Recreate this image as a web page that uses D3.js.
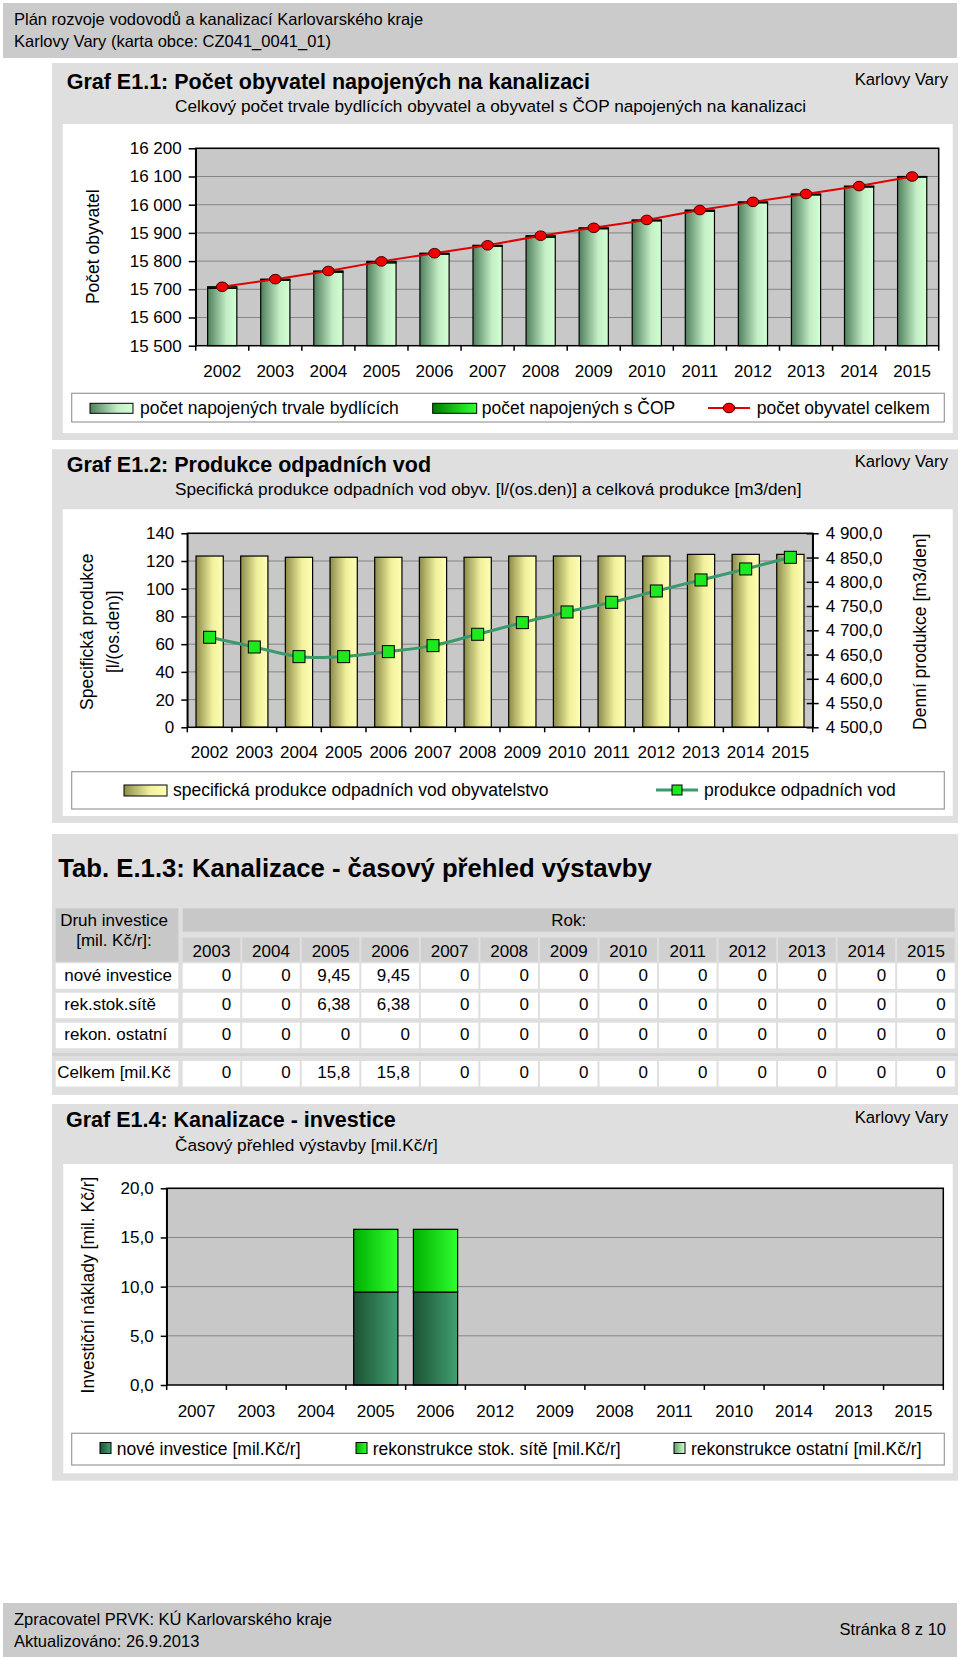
<!DOCTYPE html>
<html>
<head>
<meta charset="utf-8">
<script src="https://cdn.jsdelivr.net/npm/d3@7"></script>
<style>
  body { margin: 0; background: #fff; }
  svg { display: block; font-family: "Liberation Sans", Arial, sans-serif; }
</style>
</head>
<body>
<svg id="page" width="960" height="1657"></svg>
<script>
// --- data: Graf E1.1
const years = ["2002", "2003", "2004", "2005", "2006", "2007", "2008", "2009", "2010", "2011", "2012", "2013", "2014", "2015"];
const napojeniTrvale = [15704, 15732, 15761, 15794, 15825, 15853, 15885, 15915, 15943, 15977, 16007, 16035, 16063, 16098];
const napojeniCOP = [5, 4, 4, 5, 3, 3, 5, 3, 3, 4, 3, 3, 3, 2];
const obyvatelCelkem = [15709, 15736, 15765, 15799, 15828, 15856, 15890, 15918, 15946, 15981, 16010, 16038, 16066, 16100];

// --- data: Graf E1.2
const specProdukce = [123.6, 123.6, 122.7, 122.7, 122.7, 122.7, 122.7, 123.6, 123.6, 123.6, 123.6, 124.8, 124.8, 124.8];
const denniProdukce = [4685.6, 4665.6, 4645.7, 4645.7, 4656.0, 4668.4, 4691.8, 4715.8, 4737.8, 4757.7, 4781.1, 4803.8, 4826.5, 4850.5];

// --- data: Tab. E.1.3
const tabYears = ["2003", "2004", "2005", "2006", "2007", "2008", "2009", "2010", "2011", "2012", "2013", "2014", "2015"];
const noveInvestice = [0, 0, 9.45, 9.45, 0, 0, 0, 0, 0, 0, 0, 0, 0];
const rekStokSite = [0, 0, 6.38, 6.38, 0, 0, 0, 0, 0, 0, 0, 0, 0];
const rekonOstatni = [0, 0, 0, 0, 0, 0, 0, 0, 0, 0, 0, 0, 0];

// --- data: Graf E1.4 (category order as in the chart)
const years4 = ["2007", "2003", "2004", "2005", "2006", "2012", "2009", "2008", "2011", "2010", "2014", "2013", "2015"];

const cz = d3.formatLocale({ decimal: ",", thousands: " ", grouping: [3], currency: ["", " Kč"] });
const fmtInt = cz.format(",d");
const fmt1 = cz.format(",.1f");
const fmtTab = cz.format(".3~g");

const LEG = 17.5; // legend font size

const svg = d3.select("#page");
const defs = svg.append("defs");

function grad(id, stops) {
  const g = defs.append("linearGradient").attr("id", id)
    .attr("x1", "0%").attr("x2", "100%").attr("y1", "0%").attr("y2", "0%");
  stops.forEach(s => g.append("stop").attr("offset", s[0]).attr("stop-color", s[1]));
}
grad("gTrvale", [[0, "#4f7f5c"], [0.65, "#c4eec6"], [1, "#d2ffd2"]]);
grad("gCop", [[0, "#007a00"], [0.7, "#22dd22"], [1, "#33ff33"]]);
grad("gSpec", [[0, "#8c8c4c"], [0.6, "#f0f09c"], [1, "#ffffb4"]]);
grad("gNove", [[0, "#1b5233"], [1, "#42a070"]]);
grad("gRek", [[0, "#00b000"], [1, "#30ff30"]]);
grad("gOst", [[0, "#5f9f6c"], [1, "#d2ffd2"]]);

function text(x, y, s, opt = {}) {
  return svg.append("text").attr("x", x).attr("y", y).text(s)
    .attr("font-size", opt.size || 16)
    .attr("font-weight", opt.bold ? "bold" : null)
    .attr("text-anchor", opt.anchor || "start")
    .attr("fill", "#000");
}

function panel(y0, y1) {
  svg.append("rect").attr("x", 52).attr("y", y0).attr("width", 906).attr("height", y1 - y0).attr("fill", "#dfdfdf");
}

// --- page header / footer
svg.append("rect").attr("x", 3).attr("y", 3).attr("width", 954).attr("height", 55).attr("fill", "#cbcbcb");
text(14, 25, "Plán rozvoje vodovodů a kanalizací Karlovarského kraje", { size: 16.5 });
text(14, 47, "Karlovy Vary (karta obce: CZ041_0041_01)", { size: 16.5 });

svg.append("rect").attr("x", 3).attr("y", 1603).attr("width", 954).attr("height", 54).attr("fill", "#cbcbcb");
text(14, 1625, "Zpracovatel PRVK: KÚ Karlovarského kraje", { size: 16.5 });
text(14, 1647, "Aktualizováno: 26.9.2013", { size: 16.5 });
text(946, 1635, "Stránka 8 z 10", { size: 16.5, anchor: "end" });

// common axis helpers
function plotFrame(g, x0, y0, x1, y1) {
  g.append("rect").attr("x", x0).attr("y", y0).attr("width", x1 - x0).attr("height", y1 - y0)
    .attr("fill", "#c8c8c8");
}
function gridY(g, y, ticks, x0, x1) {
  g.selectAll(null).data(ticks).join("line")
    .attr("x1", x0).attr("x2", x1).attr("y1", d => y(d)).attr("y2", d => y(d))
    .attr("stroke", "#858585").attr("stroke-width", 1);
}
function frameBorder(g, x0, y0, x1, y1) {
  g.append("rect").attr("x", x0).attr("y", y0).attr("width", x1 - x0).attr("height", y1 - y0)
    .attr("fill", "none").attr("stroke", "#000").attr("stroke-width", 1.5);
}
function xAxisBands(g, x, yBase, labelDy) {
  const bounds = x.domain().map(d => x(d)).concat([x.range()[1]]);
  g.selectAll(null).data(bounds).join("line")
    .attr("x1", d => d).attr("x2", d => d).attr("y1", yBase).attr("y2", yBase + 5)
    .attr("stroke", "#000").attr("stroke-width", 1.5);
  g.selectAll(null).data(x.domain()).join("text")
    .attr("x", d => x(d) + x.bandwidth() / 2).attr("y", yBase + labelDy)
    .attr("text-anchor", "middle").attr("font-size", 17).text(d => d);
}
function yAxis(g, axis, xPos) {
  const a = g.append("g").attr("transform", `translate(${xPos},0)`).call(axis);
  a.select(".domain").attr("stroke-width", 1.5);
  a.selectAll(".tick line").attr("stroke-width", 1.5);
  a.selectAll(".tick text").attr("font-size", 17).attr("font-family", "Liberation Sans, Arial, sans-serif").attr("fill", "#000");
  return a;
}
function legendBox(y0, y1) {
  svg.append("rect").attr("x", 71.7).attr("y", y0).attr("width", 872.6).attr("height", y1 - y0)
    .attr("fill", "#fff").attr("stroke", "#9a9a9a").attr("stroke-width", 1.2);
}

// ================= Graf E1.1 =================
panel(63, 440);
text(66.7, 89.3, "Graf E1.1: Počet obyvatel napojených na kanalizaci", { size: 21.5, bold: true });
text(948, 84.5, "Karlovy Vary", { size: 16.7, anchor: "end" });
text(175, 111.7, "Celkový počet trvale bydlících obyvatel a obyvatel s ČOP napojených na kanalizaci", { size: 17.2 });
svg.append("rect").attr("x", 62.7).attr("y", 124).attr("width", 890).attr("height", 309).attr("fill", "#fff");
{
  const g = svg.append("g");
  const L = 195.7, R = 938.7, T = 148.3, B = 345.7;
  const x = d3.scaleBand().domain(years).range([L, R]);
  const y = d3.scaleLinear().domain([15500, 16200]).range([B, T]);
  const ticks = d3.range(15500, 16201, 100);
  plotFrame(g, L, T, R, B);
  gridY(g, y, ticks.slice(1), L, R);
  const bw = x.bandwidth() * 0.55;
  const data = years.map((yr, i) => ({ yr, t: napojeniTrvale[i], c: napojeniCOP[i], tot: obyvatelCelkem[i] }));
  const bx = d => x(d.yr) + (x.bandwidth() - bw) / 2;
  g.selectAll(".b1").data(data).join("rect").attr("class", "b1")
    .attr("x", bx).attr("width", bw).attr("y", d => y(d.t)).attr("height", d => B - y(d.t))
    .attr("fill", "url(#gTrvale)").attr("stroke", "#000").attr("stroke-width", 1.2);
  g.selectAll(".b2").data(data).join("rect").attr("class", "b2")
    .attr("x", bx).attr("width", bw).attr("y", d => y(d.t + d.c)).attr("height", d => y(d.t) - y(d.t + d.c))
    .attr("fill", "url(#gCop)").attr("stroke", "#000").attr("stroke-width", 1.2);
  const cx = d => x(d.yr) + x.bandwidth() / 2;
  g.append("path").datum(data)
    .attr("d", d3.line().x(cx).y(d => y(d.tot)))
    .attr("fill", "none").attr("stroke", "#e00000").attr("stroke-width", 2);
  g.selectAll(".dot").data(data).join("ellipse").attr("class", "dot")
    .attr("cx", cx).attr("cy", d => y(d.tot)).attr("rx", 5.8).attr("ry", 4.8)
    .attr("fill", "#f00000").attr("stroke", "#400000").attr("stroke-width", 1);
  frameBorder(g, L, T, R, B);
  yAxis(g, d3.axisLeft(y).tickValues(ticks).tickSize(7).tickSizeOuter(0).tickPadding(7).tickFormat(fmtInt), L);
  xAxisBands(g, x, B, 31);
  text(0, 0, "Počet obyvatel", { size: 17.5, anchor: "middle" })
    .attr("transform", "translate(98.5,246.7) rotate(-90)");

  legendBox(393.3, 422);
  svg.append("rect").attr("x", 90).attr("y", 403.3).attr("width", 43).attr("height", 10).attr("fill", "url(#gTrvale)").attr("stroke", "#000");
  text(140, 413.5, "počet napojených trvale bydlících", { size: LEG });
  svg.append("rect").attr("x", 432.7).attr("y", 403.3).attr("width", 44).attr("height", 10).attr("fill", "url(#gCop)").attr("stroke", "#000");
  text(481.7, 413.5, "počet napojených s ČOP", { size: LEG });
  svg.append("line").attr("x1", 708).attr("x2", 750).attr("y1", 408).attr("y2", 408).attr("stroke", "#e00000").attr("stroke-width", 2);
  svg.append("ellipse").attr("cx", 729).attr("cy", 408).attr("rx", 5.8).attr("ry", 4.8).attr("fill", "#f00000").attr("stroke", "#400000");
  text(756.7, 413.5, "počet obyvatel celkem", { size: LEG });
}

// ================= Graf E1.2 =================
panel(449.3, 823);
text(66.7, 471.7, "Graf E1.2: Produkce odpadních vod", { size: 21.5, bold: true });
text(948, 466.7, "Karlovy Vary", { size: 16.7, anchor: "end" });
text(175, 495, "Specifická produkce odpadních vod obyv. [l/(os.den)] a celková produkce [m3/den]", { size: 17.2 });
svg.append("rect").attr("x", 62.7).attr("y", 509.3).attr("width", 890).attr("height", 306.7).attr("fill", "#fff");
{
  const g = svg.append("g");
  const L = 187.3, R = 812.7, T = 533.3, B = 727.3;
  const x = d3.scaleBand().domain(years).range([L, R]);
  const y = d3.scaleLinear().domain([0, 140]).range([B, T]);
  const y2 = d3.scaleLinear().domain([4500, 4900]).range([B, T]);
  const ticks = d3.range(0, 141, 20);
  plotFrame(g, L, T, R, B);
  gridY(g, y, ticks.slice(1), L, R);
  const bw = x.bandwidth() * 0.61;
  g.selectAll(".b").data(years).join("rect").attr("class", "b")
    .attr("x", d => x(d) + (x.bandwidth() - bw) / 2).attr("width", bw)
    .attr("y", (d, i) => y(specProdukce[i])).attr("height", (d, i) => B - y(specProdukce[i]))
    .attr("fill", "url(#gSpec)").attr("stroke", "#000").attr("stroke-width", 1.2);
  const cx = d => x(d) + x.bandwidth() / 2;
  g.append("path").datum(years)
    .attr("d", d3.line().curve(d3.curveCatmullRom).x(cx).y((d, i) => y2(denniProdukce[i])))
    .attr("fill", "none").attr("stroke", "#3a9a6c").attr("stroke-width", 3);
  g.selectAll(".m").data(years).join("rect").attr("class", "m")
    .attr("x", d => cx(d) - 6).attr("y", (d, i) => y2(denniProdukce[i]) - 6)
    .attr("width", 12).attr("height", 12)
    .attr("fill", "#1ee81e").attr("stroke", "#000").attr("stroke-width", 1);
  frameBorder(g, L, T, R, B);
  yAxis(g, d3.axisLeft(y).tickValues(ticks).tickSize(6).tickSizeOuter(0).tickPadding(7).tickFormat(d3.format("d")), L);
  const ra = yAxis(g, d3.axisRight(y2).tickValues(d3.range(4500, 4901, 50)).tickSize(6).tickSizeOuter(0).tickPadding(7).tickFormat(fmt1), R);
  ra.selectAll(".tick line").attr("x1", -6);
  xAxisBands(g, x, B, 31);
  const lt = svg.append("text").attr("transform", "translate(93,631.7) rotate(-90)")
    .attr("text-anchor", "middle").attr("font-size", 17.5);
  lt.append("tspan").attr("x", 0).attr("y", 0).text("Specifická produkce");
  lt.append("tspan").attr("x", 0).attr("y", 26).text("[l/(os.den)]");
  text(0, 0, "Denní produkce [m3/den]", { size: 17.5, anchor: "middle" })
    .attr("transform", "translate(926,631.7) rotate(-90)");

  legendBox(771.7, 809);
  svg.append("rect").attr("x", 124).attr("y", 785).attr("width", 43).attr("height", 11).attr("fill", "url(#gSpec)").attr("stroke", "#000");
  text(173, 796, "specifická produkce odpadních vod obyvatelstvo", { size: LEG });
  svg.append("line").attr("x1", 656).attr("x2", 698).attr("y1", 790).attr("y2", 790).attr("stroke", "#3a9a6c").attr("stroke-width", 3);
  svg.append("rect").attr("x", 672).attr("y", 785).attr("width", 10).attr("height", 10).attr("fill", "#1ee81e").attr("stroke", "#000");
  text(704, 796, "produkce odpadních vod", { size: LEG });
}

// ================= Tab. E.1.3 =================
panel(834, 1095);
text(58.3, 877.3, "Tab. E.1.3: Kanalizace - časový přehled výstavby", { size: 25.7, bold: true });
{
  const g = svg.append("g");
  const colX = d3.scaleBand().domain(tabYears).range([182.7, 956.7]);
  const cw = colX.bandwidth() - 2;
  // header
  g.append("rect").attr("x", 55.7).attr("y", 908.3).attr("width", 122.6).attr("height", 53.4).attr("fill", "#c8c8c8");
  g.append("rect").attr("x", 182.7).attr("y", 908.3).attr("width", 772).attr("height", 23.4).attr("fill", "#c8c8c8");
  text(114, 926, "Druh investice", { size: 17, anchor: "middle" });
  text(114, 946, "[mil. Kč/r]:", { size: 17, anchor: "middle" });
  text(568.7, 926, "Rok:", { size: 17, anchor: "middle" });
  g.selectAll(".yh").data(tabYears).join("rect").attr("class", "yh")
    .attr("x", d => colX(d)).attr("y", 937.7).attr("width", cw).attr("height", 24).attr("fill", "#d0d0d0");
  g.selectAll(".yt").data(tabYears).join("text").attr("class", "yt")
    .attr("x", d => colX(d) + cw / 2).attr("y", 956.7).attr("text-anchor", "middle").attr("font-size", 17).text(d => d);

  const celkem = tabYears.map((d, i) => noveInvestice[i] + rekStokSite[i] + rekonOstatni[i]);
  const rows = [
    { name: "nové investice", vals: noveInvestice, top: 963.3 },
    { name: "rek.stok.sítě", vals: rekStokSite, top: 992.7 },
    { name: "rekon. ostatní", vals: rekonOstatni, top: 1022.7 },
    { name: "Celkem [mil.Kč", vals: celkem, top: 1061 }
  ];
  g.append("rect").attr("x", 52).attr("y", 1053).attr("width", 906).attr("height", 3).attr("fill", "#d2d2d2");
  const rg = g.selectAll(".row").data(rows).join("g").attr("class", "row");
  rg.append("rect").attr("x", 55.7).attr("y", d => d.top).attr("width", 122.6).attr("height", 25.5).attr("fill", "#fff");
  rg.append("text").attr("x", (d, i) => i === 3 ? 57.3 : 64.3).attr("y", d => d.top + 17.3)
    .attr("font-size", 17).text(d => d.name);
  rg.selectAll(".c").data(d => d.vals.map(v => ({ v, top: d.top }))).join("rect").attr("class", "c")
    .attr("x", (d, i) => colX(tabYears[i])).attr("y", d => d.top).attr("width", cw).attr("height", 25.5).attr("fill", "#fff");
  rg.selectAll(".v").data(d => d.vals.map(v => ({ v, top: d.top }))).join("text").attr("class", "v")
    .attr("x", (d, i) => colX(tabYears[i]) + cw - 9).attr("y", d => d.top + 17.3)
    .attr("text-anchor", "end").attr("font-size", 17).text(d => fmtTab(d.v));
}

// ================= Graf E1.4 =================
panel(1104, 1480.7);
text(66, 1126.7, "Graf E1.4: Kanalizace - investice", { size: 21.5, bold: true });
text(948, 1122.7, "Karlovy Vary", { size: 16.7, anchor: "end" });
text(175, 1151, "Časový přehled výstavby [mil.Kč/r]", { size: 17.2 });
svg.append("rect").attr("x", 63.3).attr("y", 1164).attr("width", 889.4).attr("height", 309.3).attr("fill", "#fff");
{
  const g = svg.append("g");
  const L = 166.7, R = 943.3, T = 1188.3, B = 1385;
  const x = d3.scaleBand().domain(years4).range([L, R]);
  const y = d3.scaleLinear().domain([0, 20]).range([B, T]);
  const ticks = d3.range(0, 21, 5);
  plotFrame(g, L, T, R, B);
  gridY(g, y, ticks.slice(1), L, R);
  const data = years4.map(yr => {
    const i = tabYears.indexOf(yr);
    return { yr, nove: noveInvestice[i], rek: rekStokSite[i], ost: rekonOstatni[i] };
  });
  const stack = d3.stack().keys(["nove", "rek", "ost"])(data);
  const fills = { nove: "url(#gNove)", rek: "url(#gRek)", ost: "url(#gOst)" };
  const bw = x.bandwidth() * 0.74;
  stack.forEach(layer => {
    g.selectAll(null).data(layer.filter(d => d[1] - d[0] > 0)).join("rect")
      .attr("x", d => x(d.data.yr) + (x.bandwidth() - bw) / 2).attr("width", bw)
      .attr("y", d => y(d[1])).attr("height", d => y(d[0]) - y(d[1]))
      .attr("fill", fills[layer.key]).attr("stroke", "#000").attr("stroke-width", 1.2);
  });
  frameBorder(g, L, T, R, B);
  yAxis(g, d3.axisLeft(y).tickValues(ticks).tickSize(6).tickSizeOuter(0).tickPadding(7).tickFormat(fmt1), L);
  xAxisBands(g, x, B, 31.7);
  text(0, 0, "Investiční náklady [mil. Kč/r]", { size: 17.5, anchor: "middle" })
    .attr("transform", "translate(94,1285) rotate(-90)");

  legendBox(1433.3, 1465);
  svg.append("rect").attr("x", 100).attr("y", 1442.5).attr("width", 11).attr("height", 11).attr("fill", "url(#gNove)").attr("stroke", "#000");
  text(116.7, 1454.5, "nové investice [mil.Kč/r]", { size: LEG });
  svg.append("rect").attr("x", 356).attr("y", 1442.5).attr("width", 11).attr("height", 11).attr("fill", "url(#gRek)").attr("stroke", "#000");
  text(372.7, 1454.5, "rekonstrukce stok. sítě [mil.Kč/r]", { size: LEG });
  svg.append("rect").attr("x", 674).attr("y", 1442.5).attr("width", 11).attr("height", 11).attr("fill", "url(#gOst)").attr("stroke", "#000");
  text(691, 1454.5, "rekonstrukce ostatní [mil.Kč/r]", { size: LEG });
}
</script>
</body>
</html>
